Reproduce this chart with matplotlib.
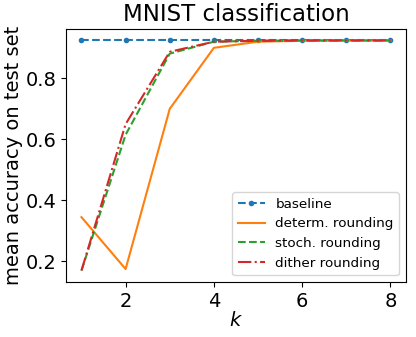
import matplotlib
matplotlib.use("Agg")
import matplotlib.pyplot as plt

k = [1, 2, 3, 4, 5, 6, 7, 8]
baseline = [0.924, 0.924, 0.924, 0.924, 0.924, 0.924, 0.924, 0.924]
determ = [0.345, 0.175, 0.70, 0.90, 0.92, 0.923, 0.924, 0.924]
stoch = [0.17, 0.615, 0.881, 0.92, 0.923, 0.924, 0.924, 0.924]
dither = [0.17, 0.65, 0.887, 0.92, 0.923, 0.924, 0.924, 0.924]

fig = plt.figure(figsize=(4.16, 3.37), dpi=100)
ax = fig.add_axes([0.1587, 0.163, 0.817, 0.751])
ax.plot(k, baseline, '--', marker='.', color='C0', label='baseline')
ax.plot(k, determ, '-', color='C1', label='determ. rounding')
ax.plot(k, stoch, '--', color='C2', label='stoch. rounding')
ax.plot(k, dither, '-.', color='C3', label='dither rounding')
ax.set_title('MNIST classification', fontsize=16.5)
ax.set_xlabel('$k$', fontsize=14, labelpad=0)
ax.set_ylabel('mean accuracy on test set', fontsize=14, labelpad=2)
ax.tick_params(labelsize=14)
ax.set_xticks([2, 4, 6, 8])
ax.set_yticks([0.2, 0.4, 0.6, 0.8])
ax.legend(fontsize=9.7, loc='lower right')
fig.savefig('out.png', dpi=100)
